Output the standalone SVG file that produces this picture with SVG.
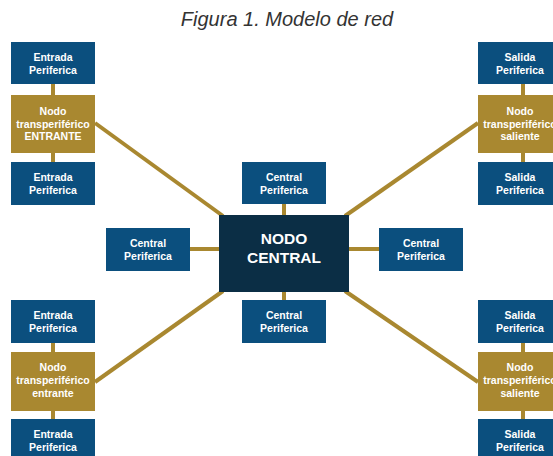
<svg xmlns="http://www.w3.org/2000/svg" width="553" height="456" viewBox="0 0 553 456">
<style>
.bg{fill:#ffffff}
.blue{fill:#0B4F7E}
.gold{fill:#A98830}
.dark{fill:#0B2E45}
.lnk{stroke:#A98830;stroke-width:4;fill:none}
.t{font-family:"Liberation Sans",Arial,sans-serif;font-weight:bold;font-size:10.5px;fill:#ffffff;text-anchor:middle}
.big{font-family:"Liberation Sans",Arial,sans-serif;font-weight:bold;font-size:15.5px;fill:#ffffff;text-anchor:middle}
.title{font-family:"Liberation Sans",Arial,sans-serif;font-style:italic;font-size:20px;fill:#333333;text-anchor:middle}
</style>
<rect class="bg" x="0" y="0" width="553" height="456"/>
<text class="title" x="287" y="26">Figura 1. Modelo de red</text>
<g id="connectors">
<line class="lnk" x1="53" y1="84" x2="53" y2="95"/>
<line class="lnk" x1="53" y1="153" x2="53" y2="162"/>
<line class="lnk" x1="523" y1="84" x2="523" y2="95"/>
<line class="lnk" x1="523" y1="153" x2="523" y2="162"/>
<line class="lnk" x1="53" y1="343" x2="53" y2="352"/>
<line class="lnk" x1="53" y1="411" x2="53" y2="419"/>
<line class="lnk" x1="523" y1="343" x2="523" y2="352"/>
<line class="lnk" x1="523" y1="411" x2="523" y2="419"/>
<line class="lnk" x1="95" y1="123" x2="223" y2="216"/>
<line class="lnk" x1="478" y1="123" x2="345" y2="216"/>
<line class="lnk" x1="95" y1="382" x2="223" y2="291"/>
<line class="lnk" x1="478" y1="382" x2="345" y2="291"/>
<line class="lnk" x1="284" y1="204" x2="284" y2="215"/>
<line class="lnk" x1="284" y1="292" x2="284" y2="300"/>
<line class="lnk" x1="190" y1="249" x2="219" y2="249"/>
<line class="lnk" x1="349" y1="249" x2="379" y2="249"/>
</g>
<g id="entrada1"><rect class="blue" x="11" y="42" width="84" height="42"/><text class="t" x="53" y="61">Entrada</text><text class="t" x="53" y="74">Periferica</text></g>
<g id="nodoEntrante1"><rect class="gold" x="11" y="95" width="84" height="58"/><text class="t" x="53" y="115">Nodo</text><text class="t" x="53" y="128">transperiférico</text><text class="t" x="53" y="140">ENTRANTE</text></g>
<g id="entrada2"><rect class="blue" x="11" y="162" width="84" height="43"/><text class="t" x="53" y="181">Entrada</text><text class="t" x="53" y="194">Periferica</text></g>
<g id="salida1"><rect class="blue" x="478" y="42" width="84" height="42"/><text class="t" x="520" y="61">Salida</text><text class="t" x="520" y="74">Periferica</text></g>
<g id="nodoSaliente1"><rect class="gold" x="478" y="95" width="84" height="58"/><text class="t" x="520" y="115">Nodo</text><text class="t" x="520" y="128">transperiférico</text><text class="t" x="520" y="140">saliente</text></g>
<g id="salida2"><rect class="blue" x="478" y="162" width="84" height="43"/><text class="t" x="520" y="181">Salida</text><text class="t" x="520" y="194">Periferica</text></g>
<g id="centralTop"><rect class="blue" x="242" y="162" width="84" height="42"/><text class="t" x="284" y="181">Central</text><text class="t" x="284" y="194">Periferica</text></g>
<g id="centralLeft"><rect class="blue" x="106" y="228" width="84" height="43"/><text class="t" x="148" y="247">Central</text><text class="t" x="148" y="260">Periferica</text></g>
<g id="centralRight"><rect class="blue" x="379" y="228" width="84" height="43"/><text class="t" x="421" y="247">Central</text><text class="t" x="421" y="260">Periferica</text></g>
<g id="centralBottom"><rect class="blue" x="242" y="300" width="84" height="43"/><text class="t" x="284" y="319">Central</text><text class="t" x="284" y="332">Periferica</text></g>
<g id="nodoCentral"><rect class="dark" x="219" y="215" width="130" height="77"/><text class="big" x="284" y="244">NODO</text><text class="big" x="284" y="263">CENTRAL</text></g>
<g id="entrada3"><rect class="blue" x="11" y="300" width="84" height="43"/><text class="t" x="53" y="319">Entrada</text><text class="t" x="53" y="332">Periferica</text></g>
<g id="nodoEntrante2"><rect class="gold" x="11" y="352" width="84" height="59"/><text class="t" x="53" y="371">Nodo</text><text class="t" x="53" y="384">transperiférico</text><text class="t" x="53" y="397">entrante</text></g>
<g id="entrada4"><rect class="blue" x="11" y="419" width="84" height="43"/><text class="t" x="53" y="438">Entrada</text><text class="t" x="53" y="451">Periferica</text></g>
<g id="salida3"><rect class="blue" x="478" y="300" width="84" height="43"/><text class="t" x="520" y="319">Salida</text><text class="t" x="520" y="332">Periferica</text></g>
<g id="nodoSaliente2"><rect class="gold" x="478" y="352" width="84" height="59"/><text class="t" x="520" y="371">Nodo</text><text class="t" x="520" y="384">transperiférico</text><text class="t" x="520" y="397">saliente</text></g>
<g id="salida4"><rect class="blue" x="478" y="419" width="84" height="43"/><text class="t" x="520" y="438">Salida</text><text class="t" x="520" y="451">Periferica</text></g>
</svg>
